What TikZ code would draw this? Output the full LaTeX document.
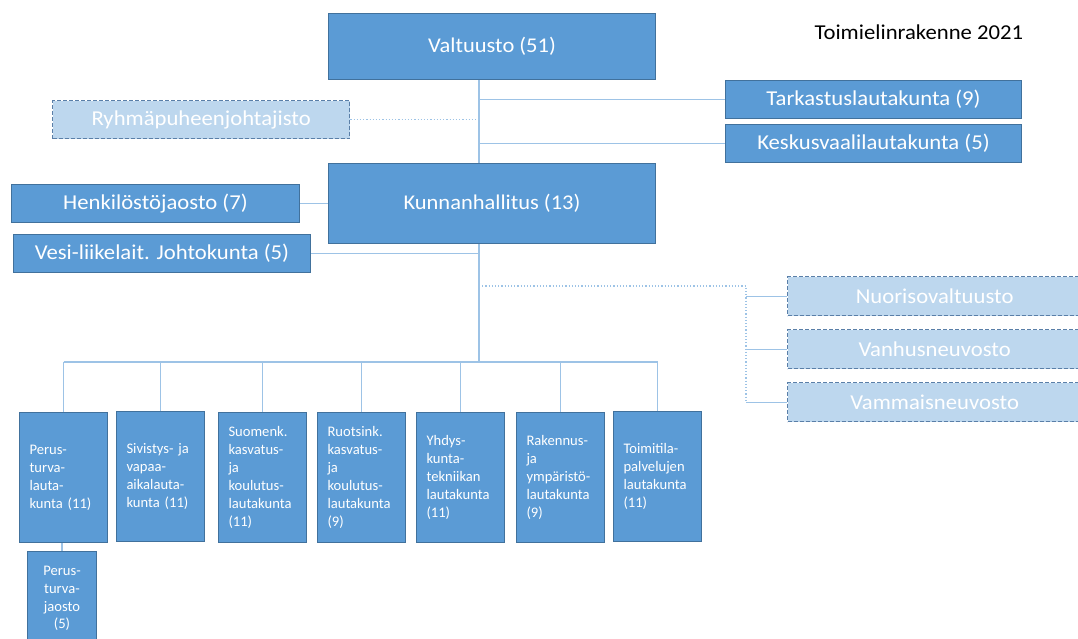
\documentclass[tikz,border=0pt]{standalone}
\usepackage{fontspec}
\setmainfont{Carlito}
\newfontfamily\widefont{Carlito}[FakeStretch=1.07]
\definecolor{boxfill}{HTML}{5B9BD5}
\definecolor{boxline}{HTML}{41719C}
\definecolor{lightfill}{HTML}{BDD7EE}
\definecolor{dashline}{HTML}{5A7FA8}
\definecolor{conn}{HTML}{9DC3E6}
\begin{document}
\begin{tikzpicture}[x=1pt,y=-1pt,
  solidbox/.style={draw=boxline, line width=1pt, fill=boxfill, text=white, inner sep=0pt, anchor=north west},
  bigbox/.style={solidbox, font=\widefont\fontsize{21}{25}\selectfont},
  sidebox/.style={solidbox, font=\widefont\fontsize{21.2}{25}\selectfont},
  dashbox/.style={draw=dashline, line width=1.3pt, dash pattern=on 4pt off 2pt, fill=lightfill, text=white, inner sep=0pt, anchor=north west, font=\widefont\fontsize{21.2}{25}\selectfont},
  smallbox/.style={solidbox, minimum width=88pt, minimum height=130pt, text width=68pt, inner xsep=10pt, align=left, font=\fontsize{14.6}{18}\selectfont},
  conline/.style={draw=conn, line width=1.2pt},
  dotline/.style={draw=conn, line width=1.2pt, dotted}
]
\clip (0,0) rectangle (1078,638);
\fill[white] (0,0) rectangle (1078,638);

\node[anchor=west, font=\widefont\fontsize{21.2}{25}\selectfont] (title) at (811,32) {Toimielinrakenne 2021};

\node[bigbox, minimum width=327pt, minimum height=66pt] (valt) at (328,13) {Valtuusto (51)};
\node[sidebox, minimum width=296pt, minimum height=38pt] (tark) at (725,80) {Tarkastuslautakunta (9)};
\node[sidebox, minimum width=296pt, minimum height=38pt] (kesk) at (725,124) {Keskusvaalilautakunta (5)};
\node[dashbox, minimum width=297pt, minimum height=38pt] (ryhm) at (52,100) {Ryhmäpuheenjohtajisto};
\node[bigbox, minimum width=327pt, minimum height=80pt] (kh) at (328,163) {Kunnanhallitus (13)};
\node[sidebox, minimum width=288pt, minimum height=38pt] (henk) at (11,184) {Henkilöstöjaosto (7)};
\node[sidebox, minimum width=297pt, minimum height=38pt] (vesi) at (13,234) {Vesi-liikelait. Johtokunta (5)};

\node[dashbox, minimum width=294pt, minimum height=39pt] (nuor) at (787,276) {Nuorisovaltuusto};
\node[dashbox, minimum width=294pt, minimum height=39pt] (vanh) at (787,329) {Vanhusneuvosto};
\node[dashbox, minimum width=294pt, minimum height=39pt] (vamm) at (787,382) {Vammaisneuvosto};

\node[smallbox] (b1) at (19,412) {Perus-\\turva-\\lauta-\\kunta (11)};
\node[smallbox] (b2) at (116,411) {Sivistys- ja\\vapaa-\\aikalauta-\\kunta (11)};
\node[smallbox] (b3) at (218,412) {Suomenk.\\kasvatus-\\ja\\koulutus-\\lautakunta\\(11)};
\node[smallbox] (b4) at (317,412) {Ruotsink.\\kasvatus-\\ja\\koulutus-\\lautakunta\\(9)};
\node[smallbox] (b5) at (416,412) {Yhdys-\\kunta-\\tekniikan\\lautakunta\\(11)};
\node[smallbox] (b6) at (516,412) {Rakennus-\\ja\\ympäristö-\\lautakunta\\(9)};
\node[smallbox] (b7) at (613,411) {Toimitila-\\palvelujen\\lautakunta\\(11)};
\node[solidbox, minimum width=69pt, minimum height=94pt, align=center, font=\fontsize{14.6}{17.7}\selectfont] (jaos) at (27,551) {Perus-\\turva-\\jaosto\\(5)};

\coordinate (tx) at (479,0);
\coordinate (bus) at (0,362);
\coordinate (dotturn) at (746,286);
\coordinate (dotend) at (746,401);

% trunk
\path[conline] (valt.south -| tx) -- (kh.north -| tx);
\path[conline] (tark.west) -- (tark.west -| tx);
\path[conline] (kesk.west) -- (kesk.west -| tx);
\path[dotline] (ryhm.east) -- (ryhm.east -| tx);
\path[conline] (henk.east) -- (henk.east -| kh.west);
\path[conline] (vesi.east) -- (vesi.east -| tx);
\path[conline] (kh.south -| tx) -- (bus -| tx);
\path[conline] (bus -| b1.north) -- (bus -| b7.north);
\foreach \b in {b1,b2,b3,b4,b5,b6,b7} {
  \path[conline] (\b.north) -- (\b.north |- bus);
}
\path[conline] (jaos.north) -- (jaos.north |- b1.south);
% dotted branch to advisory councils
\path[dotline] (dotturn -| tx) -- (dotturn) -- (dotend);
\path[conline] (nuor.west) -- (nuor.west -| dotturn);
\path[conline] (vanh.west) -- (vanh.west -| dotturn);
\path[conline] (vamm.west) -- (vamm.west -| dotturn);
\end{tikzpicture}
\end{document}
